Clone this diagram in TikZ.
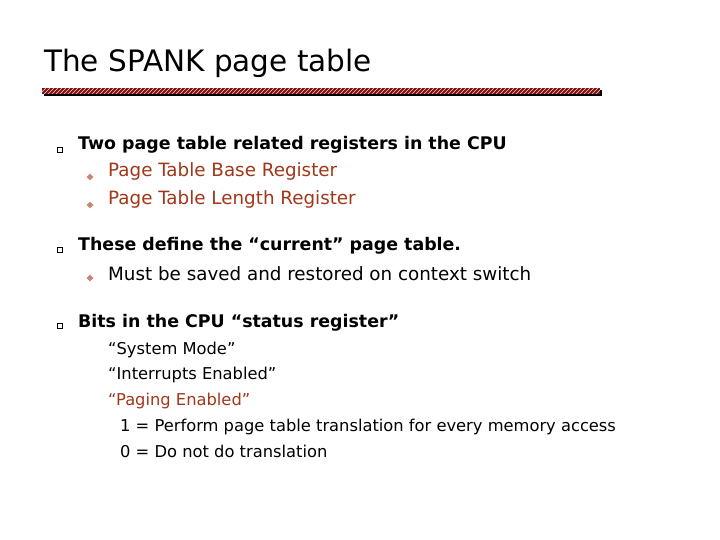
\documentclass[tikz,border=0pt]{standalone}
\usepackage{fontspec}
\usetikzlibrary{shapes.geometric}
\setmainfont{DejaVu Sans}
\begin{document}
\begin{tikzpicture}[x=1pt,y=-1pt,
  t/.style={anchor=base west,inner sep=0pt,font=\fontsize{18.3}{20}\selectfont},
  tb/.style={t,font=\fontsize{17.4}{20}\selectfont\bfseries},
  tr/.style={t,text=rust},
  ts/.style={anchor=base west,inner sep=0pt,font=\fontsize{16.3}{18}\selectfont},
  sq/.style={draw,line width=0.6pt,minimum size=5pt,inner sep=0pt},
  dm/.style={fill=rust!60,diamond,minimum size=7pt,inner sep=0pt}]
\definecolor{rust}{RGB}{160,55,25}
\definecolor{bar}{RGB}{130,15,15}
\useasboundingbox (0,0) rectangle (720,540);
\node[anchor=base west,inner sep=0pt,font=\fontsize{29.5}{30}\selectfont] (title) at (44,72) {The SPANK page table};
\fill[black] (44,90) rectangle (602,96);
\fill[bar] (42,88) rectangle (600,94);
\begin{scope}
\clip (42,88) rectangle (600,94);
\foreach \i in {40,44,...,604} \draw[white!85!bar,line width=0.5pt] (\i,94) -- (\i+6,88);
\end{scope}
\node[sq] (b1) at (60,150) {};
\node[tb] (l1) at (78,150) {Two page table related registers in the CPU};
\node[dm] (d1) at (90,177) {};
\node[tr] (l2) at (108,177) {Page Table Base Register};
\node[dm] (d2) at (90,205) {};
\node[tr] (l3) at (108,205) {Page Table Length Register};
\node[sq] (b2) at (60,250) {};
\node[tb] (l4) at (78,251) {These define the “current” page table.};
\node[dm] (d3) at (90,278) {};
\node[t] (l5) at (108,280) {Must be saved and restored on context switch};
\node[sq] (b3) at (60,326) {};
\node[tb] (l6) at (78,327) {Bits in the CPU “status register”};
\node[ts] (l7) at (108,354) {“System Mode”};
\node[ts] (l8) at (108,379) {“Interrupts Enabled”};
\node[ts,text=rust] (l9) at (108,405) {“Paging Enabled”};
\node[ts] (l10) at (120,431) {1 = Perform page table translation for every memory access};
\node[ts] (l11) at (120,457) {0 = Do not do translation};
\end{tikzpicture}
\end{document}
